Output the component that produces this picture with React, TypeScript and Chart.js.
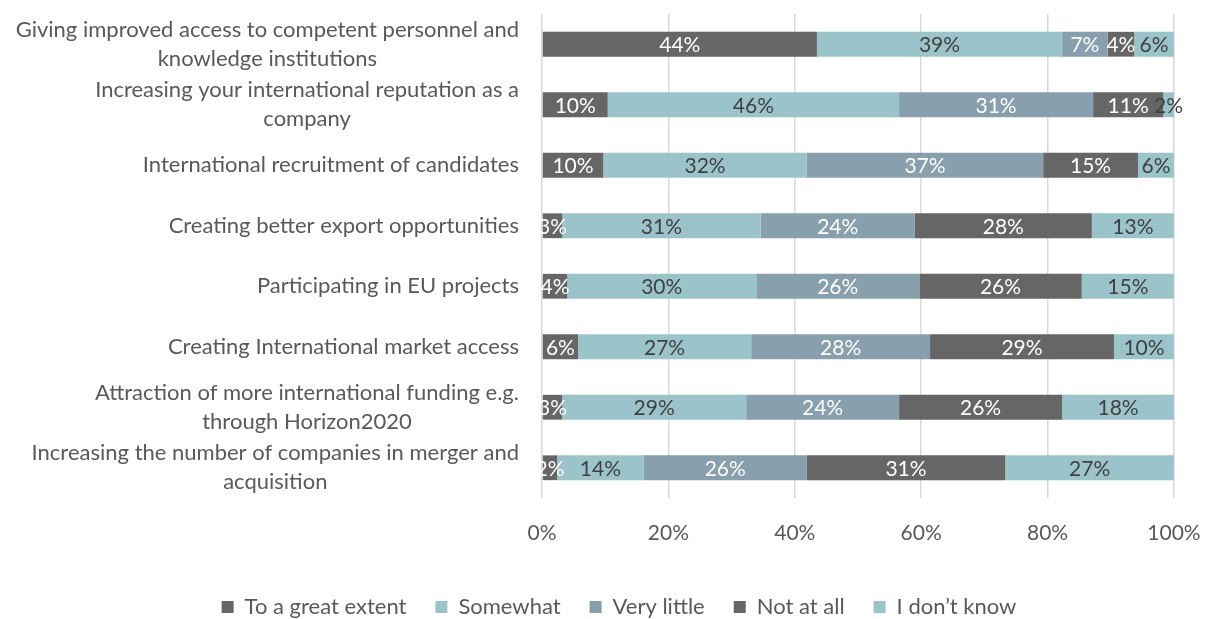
import React, { useEffect, useRef } from 'react';
import { Chart, registerables } from 'chart.js';

Chart.register(...registerables);

const categories: string[][] = [
  ['Giving improved access to competent personnel and', 'knowledge institutions'],
  ['Increasing your international reputation as a', 'company'],
  ['International recruitment of candidates'],
  ['Creating better export opportunities'],
  ['Participating in EU projects'],
  ['Creating International market access'],
  ['Attraction of more international funding e.g.', 'through Horizon2020'],
  ['Increasing the number of companies in merger and', 'acquisition'],
];

const seriesNames = ['To a great extent', 'Somewhat', 'Very little', 'Not at all', 'I don’t know'];

const toAGreatExtent = [43.5, 10.4, 9.7, 3.2, 4.0, 5.7, 3.2, 2.4];
const somewhat = [38.8, 46.1, 32.2, 31.4, 29.9, 27.4, 29.1, 13.7];
const veryLittle = [7.2, 30.7, 37.4, 24.4, 25.8, 28.3, 24.2, 25.8];
const notAtAll = [4.2, 11.1, 15.0, 28.0, 25.7, 29.1, 25.8, 31.4];
const dontKnow = [6.3, 1.7, 5.7, 13.0, 14.6, 9.5, 17.7, 26.7];

const seriesColors = ['#666666', '#9BC4CA', '#889FAE', '#666666', '#9BC4CA'];
const labelColors = ['#FFFFFF', '#404040', '#FFFFFF', '#FFFFFF', '#404040'];

const xTickValues = [0, 20, 40, 60, 80, 100];

const FONT = 'Lato';
const FONT_SIZE = 22;

const dataLabelPlugin = {
  id: 'dataLabels',
  afterDatasetsDraw(chart: any) {
    const ctx = chart.ctx;
    ctx.save();
    ctx.font = `21px ${FONT}`;
    ctx.textAlign = 'center';
    ctx.textBaseline = 'middle';
    chart.data.datasets.forEach((ds: any, di: number) => {
      const meta = chart.getDatasetMeta(di);
      meta.data.forEach((bar: any, i: number) => {
        const v = ds.data[i];
        const cx = (bar.x + bar.base) / 2;
        ctx.fillStyle = labelColors[di];
        ctx.fillText(Math.round(v) + '%', cx, bar.y + 1);
      });
    });
    ctx.restore();
  },
};

const yLabelPlugin = {
  id: 'yLabels',
  afterDraw(chart: any) {
    const ctx = chart.ctx;
    const yScale = chart.scales.y;
    const right = 519;
    const lineH = 29;
    ctx.save();
    ctx.font = `${FONT_SIZE}px ${FONT}`;
    ctx.fillStyle = '#595959';
    ctx.textAlign = 'center';
    ctx.textBaseline = 'middle';
    categories.forEach((lines, i) => {
      const y = yScale.getPixelForValue(i);
      const maxW = Math.max(...lines.map((l) => ctx.measureText(l).width));
      const cx = right - maxW / 2;
      const startY = y - ((lines.length - 1) * lineH) / 2;
      lines.forEach((l, k) => {
        ctx.fillText(l, cx, startY + k * lineH);
      });
    });
    ctx.restore();
  },
};

const legendFitPlugin = {
  id: 'legendFit',
  beforeLayout(chart: any) {
    const lg = chart.legend;
    if (lg && !lg.__wrapped) {
      const orig = lg.fit;
      lg.fit = function () {
        orig.call(this);
        this.height = 52;
      };
      lg.__wrapped = true;
    }
  },
  afterLayout(chart: any) {
    if (chart.legend) {
      chart.legend.left += 32;
      chart.legend.right += 32;
    }
  },
};

export default function App() {
  const canvasRef = useRef<HTMLCanvasElement | null>(null);

  useEffect(() => {
    document.body.style.margin = '0';
    const values = [toAGreatExtent, somewhat, veryLittle, notAtAll, dontKnow];
    const chart = new Chart(canvasRef.current as HTMLCanvasElement, {
      type: 'bar',
      data: {
        labels: categories.map((c) => c.join(' ')),
        datasets: seriesNames.map((name, i) => ({
          label: name,
          data: values[i],
          backgroundColor: seriesColors[i],
          borderWidth: 0,
          categoryPercentage: 1,
          barPercentage: 0.41,
        })),
      },
      options: {
        indexAxis: 'y',
        animation: false,
        responsive: true,
        maintainAspectRatio: false,
        layout: { padding: { top: 14, right: 36, left: 0, bottom: 0 } },
        font: { family: FONT, size: FONT_SIZE },
        scales: {
          x: {
            stacked: true,
            min: 0,
            max: 100,
            afterBuildTicks(scale: any) {
              scale.ticks = xTickValues.map((v) => ({ value: v }));
            },
            afterFit(scale: any) {
              scale.height = 69;
              scale.paddingLeft = 0;
              scale.paddingRight = 0;
            },
            ticks: {
              color: '#595959',
              font: { family: FONT, size: 21 },
              padding: 23,
              callback: (v: any) => v + '%',
            },
            grid: { color: '#D9D9D9', lineWidth: 1.5, drawTicks: false },
            border: { display: false },
          },
          y: {
            stacked: true,
            afterFit(scale: any) {
              scale.width = 542;
            },
            ticks: { display: false },
            grid: { display: false },
            border: { display: false },
          },
        },
        plugins: {
          legend: {
            position: 'bottom',
            labels: {
              boxWidth: 12,
              boxHeight: 12,
              padding: 29,
              color: '#595959',
              font: { family: FONT, size: FONT_SIZE },
            },
          },
          tooltip: { enabled: false },
        },
      } as any,
      plugins: [dataLabelPlugin, yLabelPlugin, legendFitPlugin],
    });
    return () => chart.destroy();
  }, []);

  return (
    <div style={{ position: 'relative', width: '1210px', height: '619px' }}>
      <canvas ref={canvasRef} />
    </div>
  );
}
